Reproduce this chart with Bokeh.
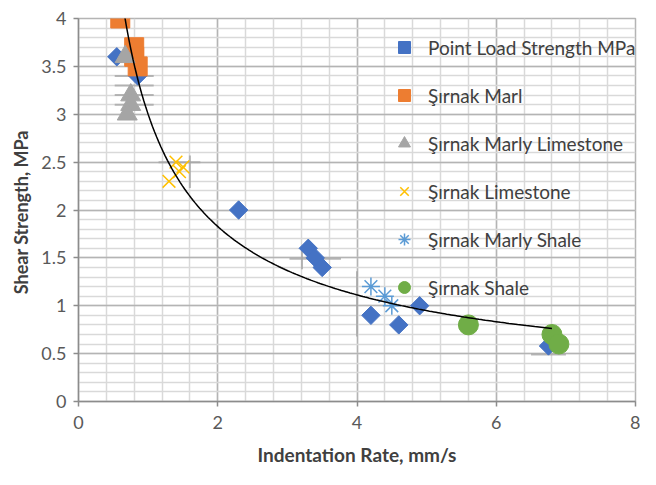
import numpy as np
from bokeh.plotting import figure
from bokeh.models import Range1d, SingleIntervalTicker, NumeralTickFormatter, Legend, LegendItem
from bokeh.embed import file_html
from bokeh.resources import INLINE

# ---- data ----
pls_x = [0.55, 0.85, 2.3, 3.3, 3.4, 3.5, 4.2, 4.6, 4.9, 6.75]
pls_y = [3.6, 3.4, 2.0, 1.6, 1.5, 1.4, 0.9, 0.8, 1.0, 0.58]

marl_x = [0.6, 0.8, 0.8, 0.85]
marl_y = [4.0, 3.7, 3.6, 3.5]

marly_lime_x = [0.67, 0.75, 0.75, 0.7]
marly_lime_y = [3.6, 3.2, 3.1, 3.0]

lime_x = [1.4, 1.45, 1.3, 1.5]
lime_y = [2.5, 2.4, 2.3, 2.45]

marly_shale_x = [4.2, 4.4, 4.5]
marly_shale_y = [1.2, 1.1, 1.0]

shale_x = [5.6, 6.8, 6.9]
shale_y = [0.8, 0.7, 0.6]

# error bars (centre, half-length)
herr_x = [0.8, 0.8, 0.8, 0.8, 1.45, 3.4, 6.75]
herr_y = [3.4, 3.3, 3.2, 3.1, 2.5, 1.49, 0.49]
herr_d = [0.28, 0.28, 0.28, 0.28, 0.3, 0.37, 0.25]
verr_x = [1.6, 3.21, 4.0]
verr_y = [2.4, 1.5, 1.02]
verr_d = [0.17, 0.12, 0.34]

# power trendline y = a * x^b as shown
trend_a = 3.0
trend_b = -0.715
trend_x0, trend_x1 = 0.66, 6.8

series_names = ["Point Load Strength MPa", "Şırnak Marl", "Şırnak Marly Limestone",
                "Şırnak Limestone", "Şırnak Marly Shale", "Şırnak Shale"]

FONT = "Lato"

p = figure(width=640, height=469, x_range=Range1d(0, 8), y_range=Range1d(0, 4),
           output_backend="svg", toolbar_location=None,
           min_border_left=78, min_border_right=5, min_border_top=18, min_border_bottom=68)

xt = SingleIntervalTicker(interval=2, num_minor_ticks=5)
yt = SingleIntervalTicker(interval=0.5, num_minor_ticks=5)
p.xaxis.ticker = xt
p.yaxis.ticker = yt
p.xgrid.ticker = xt
p.ygrid.ticker = yt
for g in (p.xgrid, p.ygrid):
    g.grid_line_color = "#b4b4b4"
    g.grid_line_width = 1.5
    g.minor_grid_line_color = "#d9d9d9"
    g.minor_grid_line_width = 1.5
p.outline_line_color = "#b4b4b4"
p.outline_line_width = 1.5

p.yaxis.formatter = NumeralTickFormatter(format="0.[0]")
p.xaxis.formatter = NumeralTickFormatter(format="0")
for ax in (p.xaxis, p.yaxis):
    ax.axis_line_color = "#8c8c8c"
    ax.axis_line_width = 1.5
    ax.major_tick_line_color = "#8c8c8c"
    ax.major_tick_line_width = 1.5
    ax.major_tick_out = 5
    ax.major_tick_in = 0
    ax.minor_tick_out = 0
    ax.minor_tick_in = 0
    ax.major_label_text_font = FONT
    ax.major_label_text_font_size = "18px"
    ax.major_label_text_color = "#595959"
    ax.axis_label_text_font = FONT
    ax.axis_label_text_font_style = "bold"
    ax.axis_label_text_color = "#404040"
p.xaxis.axis_label_text_font_size = "19px"
p.yaxis.axis_label_text_font_size = "18px"
p.xaxis.axis_label = "Indentation Rate, mm/s"
p.yaxis.axis_label = "Shear  Strength, MPa"
p.xaxis.major_label_standoff = 9
p.xaxis.axis_label_standoff = 11
p.yaxis.major_label_standoff = 7
p.yaxis.axis_label_standoff = 6

# error bars
hx0 = [x - d for x, d in zip(herr_x, herr_d)]
hx1 = [x + d for x, d in zip(herr_x, herr_d)]
p.segment(hx0, herr_y, hx1, herr_y, line_color="#a6a6a6", line_width=2, line_alpha=0.8)
vy0 = [y - d for y, d in zip(verr_y, verr_d)]
vy1 = [y + d for y, d in zip(verr_y, verr_d)]
p.segment(verr_x, vy0, verr_x, vy1, line_color="#a6a6a6", line_width=2, line_alpha=0.8)

r1 = p.scatter(pls_x, pls_y, marker="square", angle=np.pi / 4, size=13,
               fill_color="#4472C4", line_color="#4472C4")
r2 = p.scatter(marl_x, marl_y, marker="square", size=19,
               fill_color="#ED7D31", line_color="#ED7D31")
r3 = p.scatter(marly_lime_x, marly_lime_y, marker="triangle", size=20,
               fill_color="#A5A5A5", line_color="#A5A5A5")
r4 = p.scatter(lime_x, lime_y, marker="x", size=18,
               line_color="#FFC000", line_width=1.5)
r5 = p.scatter(marly_shale_x, marly_shale_y, marker="asterisk", size=18,
               line_color="#5B9BD5", line_width=1.5)
r6 = p.scatter(shale_x, shale_y, marker="circle", size=20,
               fill_color="#70AD47", line_color="#70AD47")

tx = np.linspace(trend_x0, trend_x1, 200)
p.line(tx, trend_a * tx ** trend_b, line_color="black", line_width=1.5)

legend = Legend(items=[LegendItem(label=n, renderers=[r]) for n, r in
                       zip(series_names, [r1, r2, r3, r4, r5, r6])],
                location=(311, 99))
legend.background_fill_alpha = 0
legend.border_line_color = None
legend.label_text_font = FONT
legend.label_text_font_size = "19px"
legend.label_text_color = "#404040"
legend.glyph_width = 30
legend.glyph_height = 30
legend.label_height = 30
legend.spacing = 18
legend.padding = 0
legend.margin = 0
legend.label_standoff = 9
p.add_layout(legend)

open("out.html", "w").write(file_html(p, INLINE))
